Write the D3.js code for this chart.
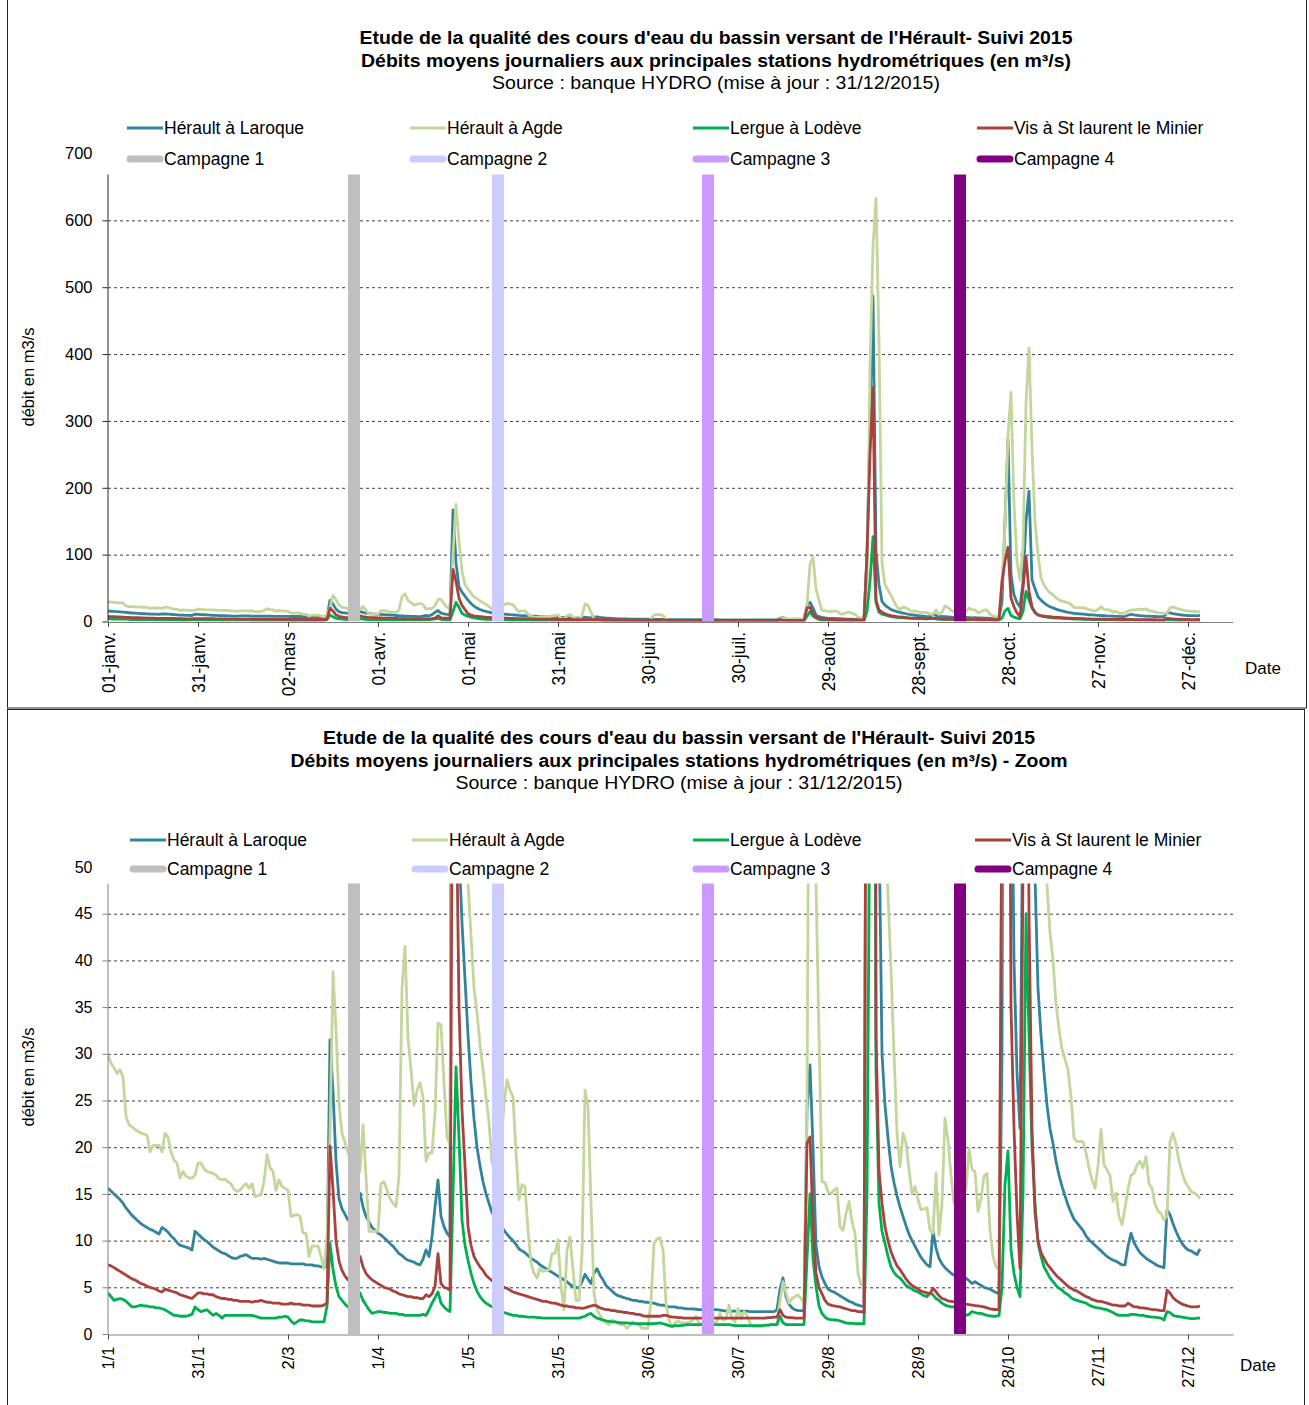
<!DOCTYPE html>
<html>
<head>
<meta charset="utf-8">
<script src="https://cdn.jsdelivr.net/npm/d3@7"></script>
<style>
    body { margin: 0; background: #fff; }
    svg { display: block; font-family: "Liberation Sans", Arial, sans-serif; }
</style>
</head>
<body>
<svg id="chart" width="1309" height="1405"></svg>
<script>
// Débits moyens journaliers 2015 (m3/s), index 0 = 1er janvier
const laroque = [
    15.6, 15.3, 15.0, 14.7, 14.4, 14.0, 13.5, 13.1, 12.7, 12.4,
    12.1, 11.8, 11.6, 11.4, 11.2, 11.1, 10.9, 10.7, 11.4, 11.2,
    10.9, 10.5, 10.2, 9.8, 9.5, 9.4, 9.3, 9.2, 9.0, 11.0,
    10.7, 10.4, 10.1, 9.9, 9.6, 9.3, 9.1, 8.9, 8.7, 8.6,
    8.4, 8.2, 8.1, 8.1, 8.3, 8.4, 8.5, 8.3, 8.1, 8.1,
    8.1, 8.0, 8.1, 8.0, 7.9, 7.8, 7.7, 7.6, 7.6, 7.6,
    7.6, 7.5, 7.5, 7.5, 7.5, 7.5, 7.4, 7.4, 7.4, 7.3,
    7.3, 7.2, 7.2, 7.2, 31.5, 26.0, 18.5, 14.5, 13.4, 12.8,
    12.2, 12.4, 13.5, 14.5, 15.1, 13.6, 12.6, 12.0, 11.4, 11.1,
    10.8, 10.6, 10.3, 10.0, 9.7, 9.4, 9.0, 8.6, 8.4, 8.1,
    7.9, 7.8, 7.7, 7.5, 7.4, 8.0, 9.0, 8.3, 10.4, 13.6,
    16.5, 12.6, 11.5, 10.8, 10.4, 167, 88, 52, 44, 38,
    32, 27, 23, 20, 18, 16.3, 15.0, 14.0, 13.0, 12.5,
    12.0, 11.6, 11.1, 10.7, 10.3, 10.0, 9.6, 9.1, 8.9, 8.7,
    8.4, 8.1, 7.9, 7.7, 7.4, 7.2, 7.0, 6.8, 6.6, 6.4,
    6.2, 6.0, 5.8, 5.6, 5.3, 5.1, 5.0, 4.9, 5.6, 6.4,
    5.9, 5.4, 6.5, 7.0, 6.3, 5.8, 5.2, 4.9, 4.6, 4.3,
    4.1, 4.0, 3.9, 3.8, 3.7, 3.6, 3.6, 3.5, 3.5, 3.4,
    3.4, 3.3, 3.3, 3.2, 3.1, 3.1, 3.0, 2.9, 2.9, 2.9,
    2.8, 2.8, 2.75, 2.7, 2.7, 2.7, 2.65, 2.6, 2.6, 2.6,
    2.6, 2.6, 2.6, 2.6, 2.55, 2.5, 2.45, 2.45, 2.45, 2.45,
    2.45, 2.45, 2.45, 2.45, 2.4, 2.4, 2.4, 2.4, 2.4, 2.4,
    2.4, 2.4, 2.4, 2.6, 4.8, 6.0, 4.0, 3.2, 2.8, 2.6,
    2.5, 2.5, 2.5, 24, 28.8, 20, 9.5, 7.2, 6.1, 5.4,
    4.8, 4.6, 4.5, 4.3, 4.1, 3.9, 3.7, 3.5, 3.4, 3.2,
    3.1, 3.0, 2.9, 100, 300, 487, 105, 55, 30, 24.5,
    21, 18, 16.2, 14.8, 13.6, 12.6, 11.6, 10.7, 10.0, 9.4,
    8.8, 8.2, 7.8, 7.4, 7.2, 11.0, 9.2, 8.1, 7.5, 7.1,
    6.8, 6.5, 6.3, 6.2, 6.1, 6.0, 6.0, 5.7, 5.4, 5.6,
    5.4, 5.2, 5.0, 4.9, 4.8, 4.6, 4.45, 4.3, 30, 150,
    272, 70, 40, 28, 22, 60, 150, 195, 62, 49,
    37, 32, 28, 24.5, 22, 20.4, 18.5, 17.0, 15.8, 14.8,
    13.8, 13.0, 12.3, 11.9, 11.5, 11.1, 10.5, 10.1, 9.8, 9.5,
    9.2, 8.9, 8.6, 8.3, 8.1, 7.9, 7.8, 7.6, 7.4, 7.4,
    9.4, 10.8, 9.8, 9.2, 8.7, 8.4, 8.1, 7.9, 7.7, 7.5,
    7.3, 7.2, 7.1, 13.3, 12.8, 11.8, 11.0, 10.3, 9.7, 9.3,
    9.0, 8.9, 8.7, 8.5, 9.1
];

const agde = [
    29.9, 29.0, 28.5, 27.9, 28.3, 27.5, 23.3, 22.4, 22.2, 21.9,
    21.7, 21.5, 21.4, 21.3, 19.5, 20.2, 20.2, 20.2, 19.5, 21.5,
    21.1, 19.5, 18.6, 18.3, 16.7, 17.4, 16.9, 16.7, 16.7, 17.0,
    18.3, 18.3, 17.7, 17.4, 17.3, 17.2, 17.0, 16.6, 16.5, 16.6,
    16.3, 16.1, 15.5, 15.3, 15.4, 15.8, 16.1, 15.6, 16.1, 14.7,
    14.8, 14.9, 16.3, 19.2, 17.8, 17.4, 15.4, 16.5, 15.8, 15.6,
    15.4, 12.6, 12.7, 12.8, 12.6, 10.8, 10.8, 8.3, 9.4, 9.4,
    9.4, 8.3, 7.0, 10.4, 21.1, 38.8, 32.6, 24.7, 21.5, 20.5,
    19.4, 18.5, 18.0, 17.5, 17.4, 22.4, 16.9, 11.0, 11.0, 11.0,
    11.0, 16.1, 16.3, 15.4, 14.5, 14.0, 13.6, 17.0, 37.0, 41.5,
    31.7, 28.3, 24.5, 26.1, 26.9, 25.4, 18.5, 19.4, 19.4, 23.6,
    33.3, 33.1, 26.9, 21.1, 20.3, 100, 175, 120, 75, 55,
    48.3, 42.6, 37.0, 34.4, 31.0, 28.3, 25.4, 22.6, 18.3, 17.6,
    17.6, 20.0, 24.7, 27.2, 26.1, 25.4, 19.4, 14.4, 16.0, 15.8,
    11.1, 7.6, 6.5, 6.0, 7.0, 6.7, 6.8, 6.9, 8.6, 8.6,
    10.1, 5.1, 2.6, 9.0, 10.4, 6.9, 3.6, 3.6, 8.6, 26.1,
    24.4, 14.0, 4.4, 2.6, 2.0, 1.5, 1.2, 1.0, 1.5, 1.3,
    1.1, 1.0, 1.0, 0.6, 0.9, 1.3, 1.1, 1.0, 0.6, 0.6,
    0.6, 3.6, 9.7, 10.2, 10.3, 9.0, 3.3, 1.5, 0.8, 1.2,
    1.4, 1.2, 1.2, 1.2, 1.3, 1.5, 1.9, 1.2, 1.0, 1.0,
    1.0, 1.0, 1.1, 1.4, 2.2, 1.5, 1.6, 3.1, 1.6, 1.3,
    2.75, 1.6, 2.4, 2.0, 1.2, 0.8, 0.8, 0.8, 0.8, 0.9,
    0.9, 1.0, 1.0, 1.1, 3.6, 5.6, 4.4, 3.3, 3.8, 4.0,
    4.2, 3.8, 3.3, 25, 85, 97, 48, 32, 16.3, 16.2,
    15.2, 15.0, 15.4, 15.6, 11.5, 11.1, 12.9, 14.2, 12.0, 10.8,
    6.5, 5.25, 5.25, 60, 380, 562, 633, 420, 87, 55,
    47, 39, 30, 21.5, 17.9, 21.5, 20.4, 17.6, 15.0, 15.8,
    14.4, 13.3, 13.4, 13.5, 11.1, 10.8, 17.2, 10.6, 14.0, 23.1,
    20.8, 17.0, 14.0, 14.5, 15.0, 15.2, 15.4, 19.9, 17.6, 17.4,
    13.1, 14.5, 16.9, 17.2, 11.1, 8.3, 7.2, 6.9, 60, 140,
    277, 343, 177, 90, 62, 110, 327, 409, 260, 150,
    100, 65, 55, 48, 43, 40, 35.4, 32.6, 30.5, 29.4,
    28.3, 25.4, 21.0, 20.6, 20.6, 20.6, 19.4, 17.8, 16.5, 15.6,
    18.0, 21.9, 18.1, 17.6, 17.0, 14.2, 15.1, 12.6, 11.7, 13.5,
    15.5, 17.0, 17.2, 18.1, 18.5, 17.8, 19.0, 16.1, 15.6, 13.9,
    13.2, 12.9, 12.2, 12.6, 20.6, 21.5, 20.3, 18.5, 17.3, 16.3,
    15.8, 15.25, 15.1, 14.9, 14.5
];

const lergue = [
    4.4, 4.0, 3.6, 3.7, 3.8, 3.7, 3.5, 3.2, 2.9, 2.9,
    3.0, 3.1, 3.0, 3.0, 2.9, 2.9, 2.8, 2.8, 2.7, 2.6,
    2.4, 2.2, 2.0, 2.0, 1.9, 1.9, 1.9, 2.0, 2.1, 2.9,
    2.6, 2.4, 2.5, 2.6, 2.3, 2.0, 2.2, 2.0, 1.7, 2.0,
    2.0, 2.0, 2.0, 2.0, 2.0, 2.0, 2.0, 2.0, 2.0, 1.9,
    1.8, 1.7, 1.7, 1.7, 1.7, 1.7, 1.7, 1.8, 1.8, 1.9,
    1.8, 1.4, 1.1, 1.3, 1.5, 1.5, 1.4, 1.4, 1.3, 1.3,
    1.3, 1.3, 1.3, 3.0, 9.7, 6.9, 5.1, 4.0, 3.6, 3.2,
    2.9, 3.2, 3.6, 4.0, 4.4, 3.6, 3.1, 2.6, 2.2, 2.3,
    2.4, 2.4, 2.3, 2.3, 2.2, 2.2, 2.2, 2.1, 2.1, 2.0,
    2.0, 2.0, 2.0, 2.0, 2.0, 2.1, 2.0, 2.6, 3.3, 3.9,
    4.5, 3.3, 2.9, 2.6, 2.4, 15, 28.6, 21, 12.2, 9.5,
    7.9, 6.5, 5.4, 4.6, 4.0, 3.6, 3.3, 3.1, 2.9, 2.7,
    2.5, 2.4, 2.3, 2.2, 2.1, 2.0, 2.0, 1.9, 1.9, 1.85,
    1.8, 1.8, 1.8, 1.75, 1.75, 1.7, 1.7, 1.7, 1.7, 1.7,
    1.7, 1.7, 1.7, 1.7, 1.7, 1.7, 1.7, 1.7, 1.8, 1.9,
    2.1, 2.2, 1.9, 1.7, 1.6, 1.5, 1.4, 1.35, 1.3, 1.3,
    1.25, 1.2, 1.2, 1.2, 1.15, 1.15, 1.1, 1.1, 1.1, 1.1,
    1.1, 1.1, 1.1, 1.15, 1.2, 1.1, 1.0, 0.9, 0.8, 0.9,
    0.9, 0.9, 0.95, 1.0, 1.0, 1.0, 1.0, 1.0, 1.0, 1.0,
    1.0, 1.0, 1.0, 1.0, 1.0, 1.0, 1.0, 1.0, 0.95, 0.9,
    0.9, 0.9, 0.9, 0.9, 0.9, 0.9, 0.9, 0.9, 0.9, 0.95,
    0.95, 1.0, 1.0, 1.0, 1.9, 1.2, 1.0, 1.0, 1.0, 1.0,
    1.0, 1.0, 1.0, 8.0, 15.0, 8.0, 5.1, 3.0, 2.2, 1.8,
    1.6, 1.55, 1.5, 1.5, 1.4, 1.3, 1.2, 1.15, 1.15, 1.1,
    1.1, 1.1, 1.1, 15, 60, 127, 28.3, 14, 11, 9.7,
    8.3, 7.2, 6.6, 6.2, 6.0, 5.6, 5.2, 5.0, 4.8, 4.6,
    4.5, 4.3, 4.1, 4.0, 4.4, 4.2, 3.8, 3.6, 3.3, 3.1,
    3.0, 2.9, 2.9, 2.8, 2.6, 2.3, 2.0, 2.1, 2.4, 2.3,
    2.2, 2.2, 2.1, 2.0, 1.95, 1.9, 1.9, 2.0, 5.0, 16.0,
    19.6, 9.0, 6.5, 5.0, 4.0, 15.0, 45.0, 32.0, 20.0, 14.0,
    9.8, 8.3, 7.2, 6.6, 6.0, 5.6, 5.2, 4.9, 4.7, 4.4,
    4.2, 3.9, 3.7, 3.6, 3.5, 3.4, 3.3, 3.1, 2.95, 2.85,
    2.8, 2.75, 2.65, 2.6, 2.45, 2.3, 2.1, 2.0, 2.0, 2.0,
    2.0, 2.1, 2.1, 2.05, 2.0, 2.0, 1.9, 1.85, 1.8, 1.8,
    1.75, 1.7, 1.5, 2.4, 2.3, 2.0, 1.9, 1.85, 1.8, 1.75,
    1.7, 1.65, 1.65, 1.7, 1.7
];

const vis = [
    7.4, 7.3, 7.1, 6.9, 6.7, 6.5, 6.3, 6.1, 5.9, 5.8,
    5.6, 5.4, 5.3, 5.1, 5.0, 4.9, 4.8, 4.6, 4.5, 4.8,
    4.7, 4.6, 4.5, 4.4, 4.2, 4.1, 4.0, 3.9, 3.8, 4.1,
    4.4, 4.4, 4.3, 4.3, 4.2, 4.2, 4.0, 3.9, 3.8, 3.8,
    3.7, 3.7, 3.6, 3.6, 3.5, 3.5, 3.5, 3.5, 3.4, 3.5,
    3.5, 3.6, 3.5, 3.4, 3.4, 3.3, 3.3, 3.3, 3.2, 3.2,
    3.2, 3.3, 3.2, 3.2, 3.2, 3.1, 3.1, 3.1, 3.0, 3.0,
    3.0, 3.0, 3.1, 3.3, 20.1, 15.5, 10.0, 7.8, 6.8, 6.2,
    5.8, 6.5, 7.5, 8.0, 8.3, 7.2, 6.5, 6.1, 5.8, 5.6,
    5.4, 5.2, 5.0, 4.9, 4.8, 4.6, 4.5, 4.3, 4.2, 4.1,
    4.0, 4.0, 3.9, 3.9, 3.8, 3.8, 4.2, 4.0, 4.3, 5.1,
    8.6, 5.4, 5.0, 4.9, 4.7, 78, 60, 35, 24, 18,
    11.5, 9.5, 8.3, 7.7, 7.2, 6.8, 6.3, 6.0, 5.7, 5.4,
    5.3, 5.1, 5.0, 4.9, 4.7, 4.5, 4.4, 4.3, 4.2, 4.1,
    4.0, 3.9, 3.8, 3.7, 3.6, 3.5, 3.5, 3.4, 3.3, 3.3,
    3.2, 3.1, 3.0, 3.0, 2.9, 2.9, 2.8, 2.8, 2.75, 2.8,
    2.9, 3.0, 3.1, 3.0, 2.8, 2.7, 2.6, 2.6, 2.5, 2.5,
    2.4, 2.4, 2.3, 2.3, 2.2, 2.2, 2.1, 2.1, 2.0, 1.9,
    1.9, 1.9, 1.9, 1.9, 1.9, 2.0, 2.0, 1.9, 1.8, 1.8,
    1.75, 1.75, 1.7, 1.7, 1.7, 1.7, 1.7, 1.7, 1.7, 1.7,
    1.7, 1.7, 1.7, 1.7, 1.7, 1.7, 1.7, 1.7, 1.7, 1.7,
    1.7, 1.7, 1.7, 1.7, 1.7, 1.7, 1.7, 1.7, 1.7, 1.7,
    1.75, 1.75, 1.8, 1.8, 2.6, 2.0, 1.8, 1.75, 1.75, 1.7,
    1.7, 1.7, 1.7, 20.4, 21.1, 12.0, 6.5, 5.0, 4.3, 3.6,
    3.2, 3.1, 3.0, 2.95, 2.9, 2.8, 2.7, 2.6, 2.5, 2.5,
    2.4, 2.4, 2.3, 100, 250, 350, 32, 17.5, 14, 11.5,
    10.0, 8.8, 8.0, 7.3, 6.9, 6.4, 5.9, 5.5, 5.2, 5.0,
    4.8, 4.6, 4.5, 4.4, 4.3, 4.9, 4.5, 4.1, 3.8, 3.7,
    3.55, 3.5, 3.45, 3.4, 3.35, 3.3, 3.2, 3.15, 3.1, 3.05,
    3.0, 2.95, 2.9, 2.8, 2.7, 2.65, 2.6, 2.6, 60, 90,
    111, 35, 22, 13, 7.0, 50, 97, 45, 22, 13,
    10, 8.7, 8.1, 7.5, 7.1, 6.7, 6.3, 6.0, 5.7, 5.4,
    5.1, 4.9, 4.7, 4.6, 4.4, 4.2, 4.0, 3.9, 3.7, 3.6,
    3.5, 3.5, 3.4, 3.3, 3.2, 3.1, 3.1, 3.0, 3.0, 3.0,
    3.3, 3.1, 2.9, 2.9, 2.8, 2.8, 2.75, 2.7, 2.6, 2.6,
    2.55, 2.5, 2.5, 4.7, 4.4, 3.9, 3.6, 3.4, 3.2, 3.1,
    3.0, 2.9, 2.9, 2.9, 3.0
];

// Jours des campagnes (0 = 1er janvier)
const campagnes = [82, 130, 200, 284];

const seriesNames = ["Hérault à Laroque", "Hérault à Agde", "Lergue à Lodève", "Vis à St laurent le Minier"];
const campagneNames = ["Campagne 1", "Campagne 2", "Campagne 3", "Campagne 4"];

// Axe des dates : un repère tous les 30 jours
const tickDays = [0, 30, 60, 90, 120, 150, 180, 210, 240, 270, 300, 330, 360];
const tickLabelsFull = ["01-janv.", "31-janv.", "02-mars", "01-avr.", "01-mai", "31-mai", "30-juin",
    "30-juil.", "29-août", "28-sept.", "28-oct.", "27-nov.", "27-déc."];
const tickLabelsZoom = ["1/1", "31/1", "2/3", "1/4", "1/5", "31/5", "30/6",
    "30/7", "29/8", "28/9", "28/10", "27/11", "27/12"];

const yTicksFull = [0, 100, 200, 300, 400, 500, 600, 700];
const yTicksZoom = [0, 5, 10, 15, 20, 25, 30, 35, 40, 45, 50];

// couleurs
const lineColors = ["#31849B", "#C3D69B", "#00B050", "#A9423F"];
const campColors = ["#BFBFBF", "#CCCCFF", "#CC99FF", "#800080"];

const svg = d3.select("#chart");

// cadres
svg.append("rect")
    .attr("x", 7.5).attr("y", -2).attr("width", 1299).attr("height", 710)
    .attr("fill", "none").attr("stroke", "#262626");
svg.append("rect")
    .attr("x", 7.5).attr("y", 709.5).attr("width", 1297).attr("height", 705)
    .attr("fill", "none").attr("stroke", "#262626");

const x = d3.scaleLinear().domain([0, 375]).range([108, 1233]);

function drawPanel(p) {
    const g = svg.append("g");
    const y = d3.scaleLinear().domain([0, p.yMax]).range([p.yBottom, p.yTop]);

    // titre
    p.titles.forEach((t, i) => {
        g.append("text")
            .attr("x", p.titleX)
            .attr("y", p.titleY + i * 22.5)
            .attr("dy", "0.35em")
            .attr("text-anchor", "middle")
            .attr("font-size", 18)
            .attr("font-weight", i < 2 ? "bold" : "normal")
            .attr("textLength", p.titleWidths[i])
            .attr("lengthAdjust", "spacingAndGlyphs")
            .attr("fill", "#000")
            .text(t);
    });

    // grille
    g.selectAll(".grid")
        .data(p.yTicks.filter(d => d > 0))
        .join("line")
        .attr("x1", x(0)).attr("x2", x(375))
        .attr("y1", d => y(d) + 0.5).attr("y2", d => y(d) + 0.5)
        .attr("stroke", "#404040")
        .attr("stroke-width", 1)
        .attr("stroke-dasharray", "3,3");

    const clipId = "clip" + p.id;
    svg.append("clipPath").attr("id", clipId)
        .append("rect")
        .attr("x", x(0)).attr("y", y(p.yMax))
        .attr("width", x(375) - x(0)).attr("height", y(0) - y(p.yMax));

    const line = d3.line()
        .x((d, i) => x(i))
        .y(d => y(d));

    const plot = g.append("g").attr("clip-path", `url(#${clipId})`);

    [laroque, agde, lergue, vis].forEach((s, i) => {
        plot.append("path")
            .datum(s)
            .attr("d", line)
            .attr("fill", "none")
            .attr("stroke", lineColors[i])
            .attr("stroke-width", 2.8)
            .attr("stroke-linejoin", "round");
    });

    // campagnes
    plot.selectAll(".camp")
        .data(campagnes)
        .join("line")
        .attr("x1", d => x(d)).attr("x2", d => x(d))
        .attr("y1", y(0)).attr("y2", y(p.yMax))
        .attr("stroke", (d, i) => campColors[i])
        .attr("stroke-width", 12);

    // axes
    const yAxis = g.append("g")
        .attr("transform", `translate(${x(0) - 0.5},0)`)
        .call(d3.axisLeft(y).tickValues(p.yTicks).tickSize(5).tickSizeOuter(0).tickPadding(10));
    yAxis.select(".domain").attr("stroke", p.yAxisColor);
    yAxis.selectAll(".tick line").attr("stroke", p.yAxisColor);
    yAxis.selectAll("text").attr("font-size", p.yFont).attr("fill", "#000")
        .attr("font-family", "Liberation Sans, Arial, sans-serif");

    const xAxis = g.append("g")
        .attr("transform", `translate(0,${y(0) + 0.5})`)
        .call(d3.axisBottom(x).tickValues(tickDays).tickSize(5).tickSizeOuter(0)
            .tickFormat((d, i) => p.tickLabels[i]));
    xAxis.select(".domain").attr("stroke", "#808080");
    xAxis.selectAll(".tick line").attr("stroke", "#404040");
    xAxis.selectAll("text")
        .attr("transform", "rotate(-90)")
        .attr("text-anchor", "end")
        .attr("x", -p.xLabelGap)
        .attr("y", 0)
        .attr("dy", "0.35em")
        .attr("font-size", p.xFont)
        .attr("fill", "#000")
        .attr("font-family", "Liberation Sans, Arial, sans-serif");

    g.append("text")
        .attr("transform", `translate(28,${p.yTitleY}) rotate(-90)`)
        .attr("text-anchor", "middle")
        .attr("dy", "0.35em")
        .attr("font-size", 16.5)
        .text("débit en m3/s");

    g.append("text")
        .attr("x", p.dateX).attr("y", p.dateY)
        .attr("dy", "0.35em")
        .attr("font-size", 17)
        .text("Date");

    // légende (fond blanc par-dessus le haut du graphique)
    g.append("rect")
        .attr("x", 100).attr("y", p.legendTop)
        .attr("width", 1140).attr("height", p.legendBottom - p.legendTop)
        .attr("fill", "#fff");

    const colX = p.legendCols;
    seriesNames.forEach((name, i) => {
        g.append("line")
            .attr("x1", colX[i]).attr("x2", colX[i] + 36)
            .attr("y1", p.legendRows[0]).attr("y2", p.legendRows[0])
            .attr("stroke", lineColors[i]).attr("stroke-width", 3);
        g.append("text")
            .attr("x", colX[i] + 37).attr("y", p.legendRows[0])
            .attr("dy", "0.35em").attr("font-size", 17.5)
            .text(name);
    });
    campagneNames.forEach((name, i) => {
        g.append("line")
            .attr("x1", colX[i] + 3).attr("x2", colX[i] + 33)
            .attr("y1", p.legendRows[1]).attr("y2", p.legendRows[1])
            .attr("stroke", campColors[i]).attr("stroke-width", 7)
            .attr("stroke-linecap", "round");
        g.append("text")
            .attr("x", colX[i] + 37).attr("y", p.legendRows[1])
            .attr("dy", "0.35em").attr("font-size", 17.5)
            .text(name);
    });
}

drawPanel({
    id: "full",
    yMax: 700, yTop: 153.5, yBottom: 621.5,
    yTicks: yTicksFull, tickLabels: tickLabelsFull,
    yAxisColor: "#262626", yFont: 16.5, xFont: 17.5, xLabelGap: 10,
    titles: ["Etude de la qualité des cours d'eau du bassin versant de l'Hérault- Suivi 2015",
        "Débits moyens  journaliers aux principales stations hydrométriques (en m³/s)",
        "Source : banque  HYDRO (mise à jour : 31/12/2015)"],
    titleX: 716, titleY: 38, titleWidths: [713, 710, 448],
    legendTop: 110, legendBottom: 174.5,
    legendRows: [128, 159], legendCols: [127, 410, 693, 977],
    yTitleY: 377, dateX: 1245, dateY: 668
});

drawPanel({
    id: "zoom",
    yMax: 50, yTop: 867, yBottom: 1334,
    yTicks: yTicksZoom, tickLabels: tickLabelsZoom,
    yAxisColor: "#808080", yFont: 16, xFont: 16.5, xLabelGap: 12,
    titles: ["Etude de la qualité des cours d'eau du bassin versant de l'Hérault- Suivi 2015",
        "Débits moyens  journaliers aux principales stations hydrométriques (en m³/s)  - Zoom",
        "Source : banque  HYDRO (mise à jour : 31/12/2015)"],
    titleX: 679, titleY: 738, titleWidths: [712, 777, 447],
    legendTop: 822, legendBottom: 883.5,
    legendRows: [840, 869], legendCols: [130, 412, 693, 975],
    yTitleY: 1077, dateX: 1240, dateY: 1365
});
</script>
</body>
</html>
